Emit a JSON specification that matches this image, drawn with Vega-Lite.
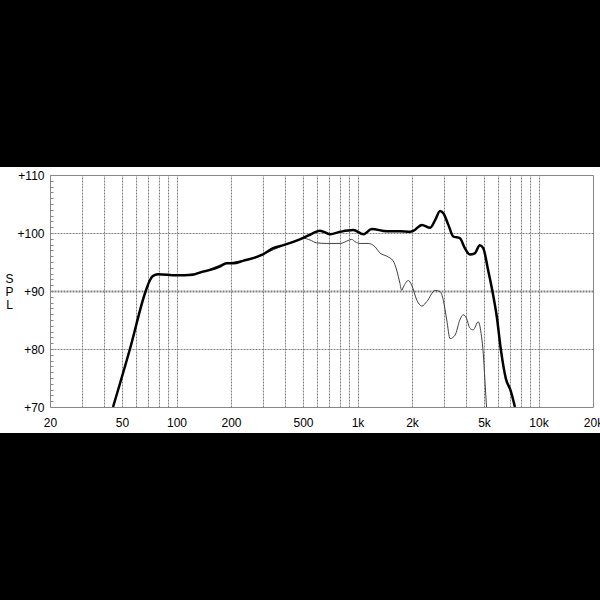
{
  "$schema": "https://vega.github.io/schema/vega-lite/v6.json",
  "autosize": {"type": "none"},
  "width": 543,
  "height": 232,
  "padding": {"left": 50, "top": 175, "right": 7, "bottom": 193},
  "background": "white",
  "config": {
    "view": {"stroke": "#888888", "strokeWidth": 1},
    "axis": {"labelFont": "Liberation Sans", "titleFont": "Liberation Sans", "labelColor": "#000000", "titleColor": "#000000"}
  },
  "data": {
    "values": [
      {"s": "thick", "f": 44.6, "db": 70},
      {"s": "thick", "f": 55.3, "db": 80},
      {"s": "thick", "f": 67.6, "db": 90},
      {"s": "thick", "f": 71.4, "db": 91.9},
      {"s": "thick", "f": 74, "db": 92.6},
      {"s": "thick", "f": 79, "db": 92.9},
      {"s": "thick", "f": 100, "db": 92.7},
      {"s": "thick", "f": 123, "db": 92.8},
      {"s": "thick", "f": 135, "db": 93.2},
      {"s": "thick", "f": 152, "db": 93.6},
      {"s": "thick", "f": 173, "db": 94.2},
      {"s": "thick", "f": 189, "db": 94.8},
      {"s": "thick", "f": 206, "db": 94.8},
      {"s": "thick", "f": 233, "db": 95.2},
      {"s": "thick", "f": 300, "db": 96.3},
      {"s": "thick", "f": 342, "db": 97.4},
      {"s": "thick", "f": 390, "db": 97.9},
      {"s": "thick", "f": 480, "db": 98.9},
      {"s": "thick", "f": 546, "db": 99.7},
      {"s": "thick", "f": 620, "db": 100.4},
      {"s": "thick", "f": 706, "db": 99.8},
      {"s": "thick", "f": 802, "db": 100.2},
      {"s": "thick", "f": 948, "db": 100.5},
      {"s": "thick", "f": 1078, "db": 99.8},
      {"s": "thick", "f": 1199, "db": 100.7},
      {"s": "thick", "f": 1450, "db": 100.3},
      {"s": "thick", "f": 1716, "db": 100.3},
      {"s": "thick", "f": 1953, "db": 100.2},
      {"s": "thick", "f": 2043, "db": 100.4},
      {"s": "thick", "f": 2268, "db": 101.4},
      {"s": "thick", "f": 2520, "db": 100.9},
      {"s": "thick", "f": 2683, "db": 102.2},
      {"s": "thick", "f": 2858, "db": 103.8},
      {"s": "thick", "f": 2980, "db": 103.4},
      {"s": "thick", "f": 3176, "db": 101.4},
      {"s": "thick", "f": 3380, "db": 99.4},
      {"s": "thick", "f": 3675, "db": 99.1},
      {"s": "thick", "f": 3916, "db": 97.4},
      {"s": "thick", "f": 4174, "db": 96.3},
      {"s": "thick", "f": 4445, "db": 96.5},
      {"s": "thick", "f": 4740, "db": 97.9},
      {"s": "thick", "f": 4950, "db": 97.4},
      {"s": "thick", "f": 5266, "db": 93.6},
      {"s": "thick", "f": 5600, "db": 89.5},
      {"s": "thick", "f": 5880, "db": 85.6},
      {"s": "thick", "f": 6200, "db": 79.8},
      {"s": "thick", "f": 6600, "db": 74.9},
      {"s": "thick", "f": 7000, "db": 72.9},
      {"s": "thick", "f": 7410, "db": 70},
      {"s": "thin", "f": 44.6, "db": 70},
      {"s": "thin", "f": 55.3, "db": 80},
      {"s": "thin", "f": 67.6, "db": 90},
      {"s": "thin", "f": 71.4, "db": 91.9},
      {"s": "thin", "f": 74, "db": 92.6},
      {"s": "thin", "f": 79, "db": 92.9},
      {"s": "thin", "f": 100, "db": 92.7},
      {"s": "thin", "f": 135, "db": 93.2},
      {"s": "thin", "f": 189, "db": 94.8},
      {"s": "thin", "f": 233, "db": 95.2},
      {"s": "thin", "f": 300, "db": 96.3},
      {"s": "thin", "f": 390, "db": 97.9},
      {"s": "thin", "f": 480, "db": 98.9},
      {"s": "thin", "f": 502, "db": 99.1},
      {"s": "thin", "f": 546, "db": 98.8},
      {"s": "thin", "f": 594, "db": 98.3},
      {"s": "thin", "f": 676, "db": 98.2},
      {"s": "thin", "f": 802, "db": 98.2},
      {"s": "thin", "f": 888, "db": 98.7},
      {"s": "thin", "f": 928, "db": 98.9},
      {"s": "thin", "f": 970, "db": 98.5},
      {"s": "thin", "f": 1034, "db": 98.2},
      {"s": "thin", "f": 1145, "db": 98.2},
      {"s": "thin", "f": 1252, "db": 97.6},
      {"s": "thin", "f": 1326, "db": 96.6},
      {"s": "thin", "f": 1450, "db": 96.0},
      {"s": "thin", "f": 1573, "db": 95.2},
      {"s": "thin", "f": 1646, "db": 93.6},
      {"s": "thin", "f": 1716, "db": 91.3},
      {"s": "thin", "f": 1754, "db": 90.1},
      {"s": "thin", "f": 1792, "db": 90.7},
      {"s": "thin", "f": 1910, "db": 91.8},
      {"s": "thin", "f": 1993, "db": 91.0},
      {"s": "thin", "f": 2128, "db": 88.4},
      {"s": "thin", "f": 2268, "db": 87.4},
      {"s": "thin", "f": 2418, "db": 88.2},
      {"s": "thin", "f": 2683, "db": 90.1},
      {"s": "thin", "f": 2858, "db": 89.9},
      {"s": "thin", "f": 2980, "db": 88.4},
      {"s": "thin", "f": 3112, "db": 85.0},
      {"s": "thin", "f": 3246, "db": 81.8},
      {"s": "thin", "f": 3460, "db": 82.4},
      {"s": "thin", "f": 3675, "db": 85.0},
      {"s": "thin", "f": 3835, "db": 85.9},
      {"s": "thin", "f": 4002, "db": 85.3},
      {"s": "thin", "f": 4174, "db": 83.6},
      {"s": "thin", "f": 4355, "db": 83.3},
      {"s": "thin", "f": 4644, "db": 84.7},
      {"s": "thin", "f": 4845, "db": 82.1},
      {"s": "thin", "f": 4950, "db": 79.3},
      {"s": "thin", "f": 5054, "db": 74.7},
      {"s": "thin", "f": 5160, "db": 70}
    ]
  },
  "layer": [
    {
      "mark": {"type": "rect", "color": "#000000", "clip": false},
      "encoding": {
        "x": {"datum": 1, "type": "quantitative", "scale": {"type": "log", "domain": [20, 20000]}, "axis": null},
        "x2": {"datum": 1000000},
        "y": {"datum": 111.38, "type": "quantitative", "scale": {"domain": [70, 110], "zero": false, "nice": false}, "axis": null},
        "y2": {"datum": 300}
      }
    },
    {
      "mark": {"type": "rect", "color": "#000000", "clip": false},
      "encoding": {
        "x": {"datum": 1, "type": "quantitative", "scale": {"type": "log", "domain": [20, 20000]}, "axis": null},
        "x2": {"datum": 1000000},
        "y": {"datum": 65.52, "type": "quantitative", "scale": {"domain": [70, 110], "zero": false, "nice": false}, "axis": null},
        "y2": {"datum": -200}
      }
    },
    {
      "transform": [{"filter": "datum.s == 'thin'"}],
      "mark": {"type": "line", "color": "#404040", "strokeWidth": 1, "interpolate": "monotone", "clip": true},
      "encoding": {
        "x": {
          "field": "f", "type": "quantitative",
          "scale": {"type": "log", "domain": [20, 20000]},
          "axis": {
            "orient": "bottom", "title": null, "grid": false, "ticks": false, "domain": false,
            "values": [20, 50, 100, 200, 500, 1000, 2000, 5000, 10000, 20000],
            "labelExpr": "datum.value >= 1000 ? (datum.value / 1000) + 'k' : '' + datum.value",
            "labelFlush": false, "labelOverlap": false, "labelPadding": 10, "labelFontSize": 12
          }
        },
        "y": {
          "field": "db", "type": "quantitative",
          "scale": {"domain": [70, 110], "zero": false, "nice": false},
          "axis": {
            "orient": "left", "grid": false, "domain": false,
            "values": [70,71,72,73,74,75,76,77,78,79,80,81,82,83,84,85,86,87,88,89,90,91,92,93,94,95,96,97,98,99,100,101,102,103,104,105,106,107,108,109,110],
            "labelExpr": "datum.value % 10 == 0 ? '+' + datum.value : ''",
            "tickSize": -3, "tickColor": "#888888", "labelPadding": 9, "labelFontSize": 12,
            "labelOverlap": false, "labelFlush": false,
            "title": ["S", "P", "L"], "titleAngle": 0, "titleX": -41, "titleY": 103,
            "titleAlign": "center", "titleBaseline": "middle", "titleFontSize": 12,
            "titleFontWeight": "normal", "titleLineHeight": 13
          }
        }
      }
    },
    {
      "transform": [{"filter": "datum.s == 'thick'"}],
      "mark": {"type": "line", "color": "#000000", "strokeWidth": 2.5, "interpolate": "monotone", "clip": true},
      "encoding": {
        "x": {
          "field": "f", "type": "quantitative",
          "scale": {"type": "log", "domain": [20, 20000]},
          "axis": {
            "orient": "top", "title": null, "labels": false, "ticks": false, "domain": false, "grid": true,
            "values": [30,40,50,60,70,80,90,100,200,300,400,500,600,700,800,900,1000,2000,3000,4000,5000,6000,7000,8000,9000,10000],
            "gridColor": "#808080", "gridWidth": 1, "gridDash": [2, 1]
          }
        },
        "y": {
          "field": "db", "type": "quantitative",
          "scale": {"domain": [70, 110], "zero": false, "nice": false},
          "axis": {
            "orient": "right", "title": null, "labels": false, "ticks": false, "domain": false, "grid": true,
            "values": [80, 90, 100],
            "gridColor": "#808080", "gridDash": [2, 1],
            "gridWidth": {"condition": {"test": "datum.value == 90", "value": 2}, "value": 1}
          }
        }
      }
    }
  ],
  "resolve": {"axis": {"x": "independent", "y": "independent"}}
}
